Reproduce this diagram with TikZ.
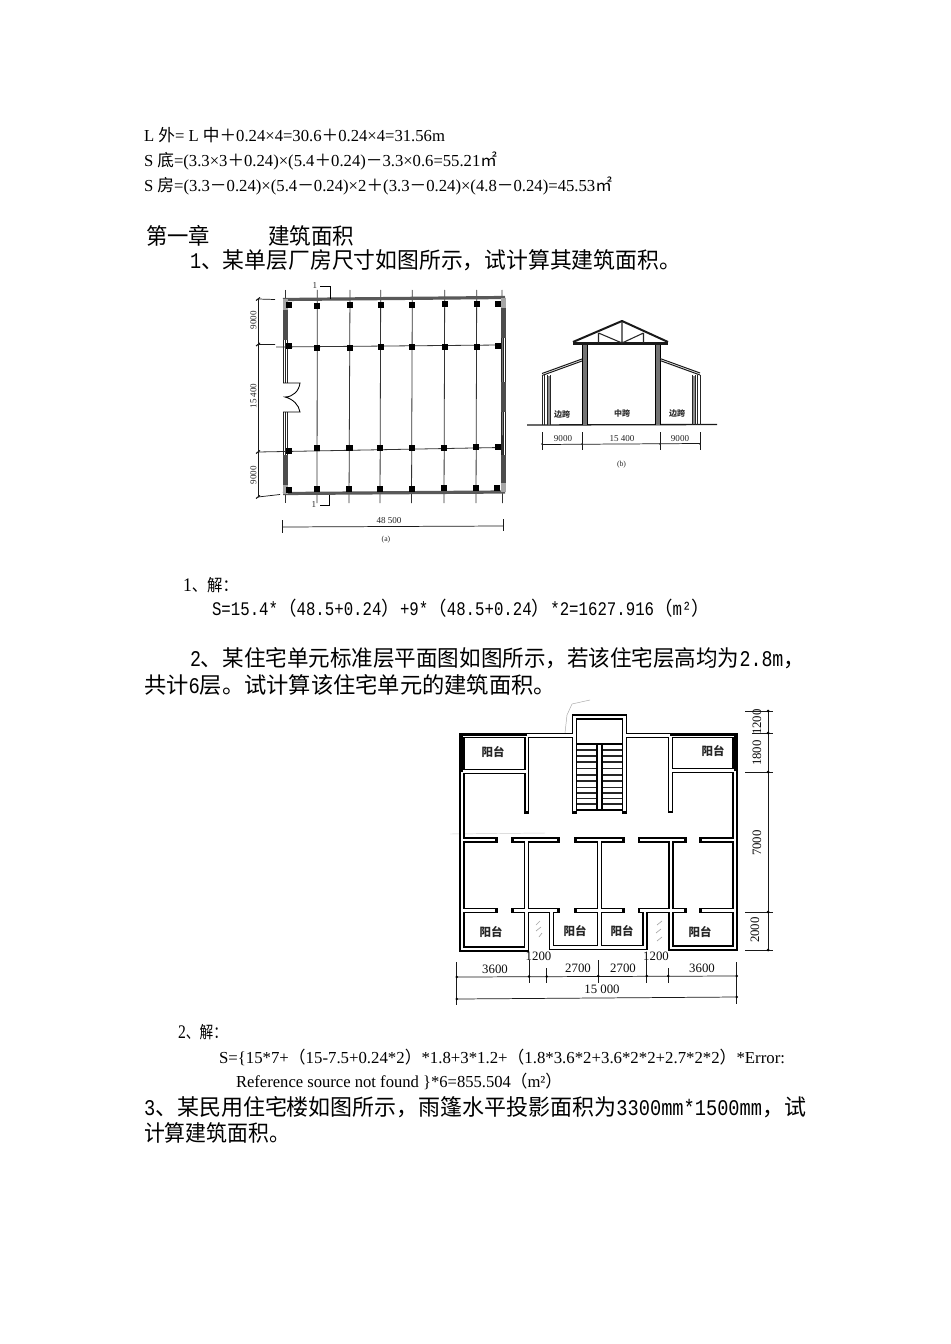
\documentclass[tikz,border=0pt]{standalone}
\usepackage{fontspec}
\usepackage{graphicx}
\setmainfont{Liberation Serif}
\newfontfamily\cjk{Noto Sans CJK SC}
\newfontfamily\hw[FakeStretch=0.85]{Liberation Mono}
\newcommand{\fitline}[5]{%
  \pgfmathsetlengthmacro\fitw{(#3-#2)*0.75}%
  \node[anchor=base west,inner sep=0pt,outer sep=0pt] (#1) at (#2,#4) {\resizebox{\fitw}{\height}{#5}};}
\newcommand{\fsA}{\fontsize{12.6}{15}\selectfont}
\newcommand{\fsB}{\fontsize{16.8}{20}\selectfont}
\newcommand{\fsC}{\fontsize{14.4}{17}\selectfont}
\tikzset{
  thinline/.style={line width=0.5pt,draw=black!85},
  gridline/.style={line width=0.6pt,draw=black!80},
  wallblack/.style={line width=4pt,draw=black,line cap=rect,line join=miter},
  wallwhite/.style={line width=1.8pt,draw=white,line cap=butt,line join=miter},
  dimline/.style={line width=0.55pt,draw=black!90},
  tinylabel/.style={inner sep=0pt,font=\fontsize{6.8}{8}\selectfont,text=black!85},
  captionlabel/.style={inner sep=0pt,font=\fontsize{5.8}{7}\selectfont,text=black!85},
  planlabel/.style={inner sep=0pt,font=\fontsize{9.6}{11}\selectfont,text=black!95},
  balconylabel/.style={inner sep=0pt,font=\cjk\bfseries\fontsize{8.6}{10}\selectfont,text=black!85},
  spanlabel/.style={inner sep=0pt,font=\cjk\bfseries\fontsize{6}{7}\selectfont,text=black!80},
  column/.style={fill=black,draw=none},
  noise/.style={line width=0.35pt,draw=black!35},
}
\begin{document}
\begin{tikzpicture}[x=0.75pt,y=-0.75pt]
\useasboundingbox (0,0) rectangle (950,1344);
\fill[white] (0,0) rectangle (950,1344);

% ---------- text ----------
\fitline{t1}{144}{445}{141.7}{\fsA L {\cjk 外}= L {\cjk 中＋}0.24×4=30.6{\cjk ＋}0.24×4=31.56m}
\fitline{t2}{144}{497}{166.7}{\fsA S {\cjk 底}=(3.3×3{\cjk ＋}0.24)×(5.4{\cjk ＋}0.24){\cjk －}3.3×0.6=55.21{\cjk ㎡}}
\fitline{t3}{144}{612}{191.7}{\fsA S {\cjk 房}=(3.3{\cjk －}0.24)×(5.4{\cjk －}0.24)×2{\cjk ＋}(3.3{\cjk －}0.24)×(4.8{\cjk －}0.24)=45.53{\cjk ㎡}}
\fitline{t4a}{146}{210}{245}{\fsB\cjk 第一章}
\fitline{t4b}{268}{354}{245}{\fsB\cjk 建筑面积}
\fitline{t5}{190}{681}{269}{\fsB{\hw 1}\cjk 、某单层厂房尺寸如图所示，试计算其建筑面积。}
\fitline{t6}{183}{238}{591.7}{\fsA{\fsC 1}\cjk 、解：}
\fitline{t7}{212}{710}{615}{\fsC\hw S=15.4*{\cjk （}48.5+0.24{\cjk ）}+9*{\cjk （}48.5+0.24{\cjk ）}*2=1627.916{\cjk （}m²{\cjk ）}}
\fitline{t8}{190}{805}{666.5}{\fsB{\hw 2}{\cjk 、某住宅单元标准层平面图如图所示，若该住宅层高均为}{\hw 2.8m}{\cjk ，}}
\fitline{t9}{144}{556}{693}{\fsB{\cjk 共计}{\hw 6}{\cjk 层。试计算该住宅单元的建筑面积。}}
\fitline{t10}{178}{227}{1038}{\fsA{\fsC 2}{\cjk 、解：}}
\fitline{t11}{219}{785}{1063}{\fsA S=\{15*7+{\cjk （}15-7.5+0.24*2{\cjk ）}*1.8+3*1.2+{\cjk （}1.8*3.6*2+3.6*2*2+2.7*2*2{\cjk ）}*Error:}
\fitline{t12}{236}{562}{1087.5}{\fsA Reference source not found \}*6=855.504{\cjk （}m²{\cjk ）}}
\fitline{t13}{144}{806}{1115}{\fsB{\hw 3}{\cjk 、某民用住宅楼如图所示，雨篷水平投影面积为}{\hw 3300mm*1500mm}{\cjk ，试}}
\fitline{t14}{144}{290}{1141}{\fsB\cjk 计算建筑面积。}

% ---------- figure (a): factory plan ----------
% grid
\foreach \xa/\xb in {285/285,317.3/317,350/349,380.7/380,412.3/411.5,444.7/444,476.7/476,502/502.5}
  \draw[gridline] (\xa,290) -- (\xb,503);
\draw[gridline] (276,347) -- (500,345);
\draw[gridline] (258,452) -- (500,447.5);
% walls
\draw[line width=2.4pt,draw=black!65] (283,299.5) -- (505,297.5);
\draw[line width=2.4pt,draw=black!65] (283,493.5) -- (505,492);
\fill[black!70] (283,310) rectangle (287.5,340);
\fill[black!70] (283,455) rectangle (287.5,485);
\fill[black!70] (501,308) rectangle (505.5,338);
\fill[black!70] (501,382) rectangle (505.5,412);
\fill[black!70] (501,455) rectangle (505.5,483);
\foreach \ya/\yb in {340/383,412/455}{
  \draw[thinline] (283,\ya) -- (283,\yb) (285,\ya) -- (285,\yb) (287,\ya) -- (287,\yb);
}
\foreach \ya/\yb in {338/382,412/455}{
  \draw[thinline] (501,\ya) -- (501,\yb) (503,\ya) -- (503,\yb) (505,\ya) -- (505,\yb);
}
\fill[black!35] (283,299) rectangle (287.5,310);
\fill[black!35] (283,485) rectangle (287.5,494);
\fill[black!35] (501,298) rectangle (505.5,308);
\fill[black!35] (501,483) rectangle (505.5,492);
% columns
\foreach \cx/\cy in {289.3/305.3,317.3/305.7,350/305,380.7/305,412.3/304.7,444.7/304.3,476.7/304.3,498.3/304,
                     289.3/346,317.3/348.3,350/347.7,380.7/347.3,412.3/347.3,444.7/347,476.7/346.7,498.3/346.3,
                     289.3/450.7,317/448.3,349.5/448.3,380/448,411.7/448,444/447.7,476/447.3,497.7/447,
                     289.3/489.7,316.7/489.3,349/489.3,380/489,411.7/489,444/488.3,476/488.3,497.3/487.7}
  \fill[column] (\cx-3.1,\cy-3.1) rectangle (\cx+3.1,\cy+3.1);
% door
\fill[white] (283,383) rectangle (287,412);
\draw[line width=0.65pt] (283,383) -- (300,383) .. controls (299,391) and (293,397) .. (285,397)
   .. controls (293,399) and (299,405) .. (300,412) -- (283,412);
% left dimension
\draw[dimline] (258,299) -- (258,497);
\draw[dimline] (258,299) -- (275,299.5) (258,344.5) -- (275,344.5) (258,497) -- (280,494.5);
\foreach \ty in {299,344.5,452,497}
  \draw[dimline,line width=0.8pt] (256,\ty+1.5) -- (260,\ty-1.5);
\node[tinylabel,rotate=90] (a9a) at (253.5,320) {9000};
\node[tinylabel,rotate=90] (a15) at (253.5,396) {15 400};
\node[tinylabel,rotate=90] (a9b) at (253.5,475) {9000};
% section marks
\node[tinylabel] (s1) at (315,286) {1};
\draw[line width=0.6pt] (320,286) -- (330,286) -- (330,299);
\node[tinylabel] (s2) at (314,505) {1};
\draw[line width=0.6pt] (320,505) -- (329,505) -- (329,495);
% bottom dimension
\draw[dimline] (282,527) -- (503,526);
\draw[dimline] (282,520) -- (282,533) (503,519) -- (503,531);
\node[tinylabel] (a48) at (389,520.5) {48 500};
\node[captionlabel] (acap) at (386,540) {(a)};

% ---------- figure (b): section ----------
\draw[line width=1pt,draw=black!90] (527,425) -- (717,424.5);
% centre columns
\fill[black!55] (582,344) rectangle (587,424.5);
\fill[black!55] (655,344) rectangle (660,424.5);
\draw[line width=0.5pt] (587,344) -- (587,424.5) (655,344) -- (655,424.5) (660,344) -- (660,424.5) (582,344)--(582,424.5);
% truss
\draw[line width=1.5pt,draw=black!90,line join=round] (573,342) -- (622,321) -- (668,342);
\draw[line width=1.8pt,draw=black!90] (573,343.5) -- (668,343.5);
\draw[line width=0.8pt,draw=black!85] (598.5,333) -- (598.5,343) (622,322) -- (622,343) (643.5,333) -- (643.5,343)
   (598.5,333) -- (622,343) -- (643.5,333);
% side roofs
\draw[line width=0.75pt,draw=black!90] (542,373.5) -- (582,359) (542,375.5) -- (582,361);
\draw[line width=0.75pt,draw=black!90] (660,358.5) -- (700,373) (660,360.5) -- (700,375);
% side columns
\fill[black!45] (547,376) rectangle (550,424);
\fill[black!45] (692,376) rectangle (695,424);
\foreach \px in {542,544,547,550,692,695,697,700}
  \draw[line width=0.7pt,draw=black!85] (\px,375) -- (\px,425);
\node[spanlabel] (bs1) at (562,414) {边跨};
\node[spanlabel] (bs2) at (622,413.5) {中跨};
\node[spanlabel] (bs3) at (677,413) {边跨};
% dimension
\draw[dimline] (542,444.5) -- (700,443.5);
\foreach \dx in {542,582,660,700}{
  \draw[dimline] (\dx,432) -- (\dx,450);
  \fill[black!85] (\dx,444) circle (0.9);
}
\node[tinylabel] (b90a) at (563,439) {9000};
\node[tinylabel] (b154) at (622,439) {15 400};
\node[tinylabel] (b90b) at (680,438.5) {9000};
\node[captionlabel] (bcap) at (621.5,464.5) {(b)};

% ---------- figure: residential plan ----------
\draw[noise] (565,733) -- (567,715) -- (572,704) -- (590,700);
\draw[noise,draw=black!20] (450,834) -- (545,833);
\def\planwalls{
  (526.5,840) -- (526.5,949) -- (462,949) -- (462,735.5) -- (574.5,735.5)
  (624.5,735.5) -- (735,735.5) -- (735,948) -- (671,948) -- (671,840)
  (574.5,811.4) -- (574.5,717) -- (624.5,717) -- (624.5,811.4)
  (526.7,735.5) -- (526.7,811.4)
  (670.5,735.5) -- (670.5,810.5)
  (462,771.5) -- (526.7,771.5)
  (670.5,770.5) -- (735,770.5)
  (462,840) -- (495.4,840) (513.6,840) -- (557.4,840) (576.6,840) -- (622.4,840) (640.3,840) -- (684,840) (702,840) -- (735,840)
  (462,910.5) -- (495.4,910.5) (513.6,910.5) -- (557.4,910.5) (576.6,910.5) -- (622.4,910.5) (640.3,910.5) -- (684,910.5) (702,910.5) -- (735,910.5)
  (599.3,840) -- (599.3,947.5)
  (551.5,910.5) -- (551.5,947.5) -- (645,947.5) -- (645,910.5)
}
\draw[wallblack] \planwalls;
\draw[wallwhite] \planwalls;
% thick balcony edges
\draw[line width=2.4pt,line join=miter] (461,772) -- (461,734.8) -- (527,734.8);
\draw[line width=2.4pt,line join=miter] (736,771) -- (736,734.8) -- (670,734.8);
% stairs
\draw[line width=1.5pt] (577,744.3) -- (622,744.3);
\foreach \ty in {750,756,762,768.5,775,781,787.5,793,798.5,804}
  \draw[line width=0.9pt,draw=black!85] (577,\ty) -- (597,\ty) (602,\ty) -- (622,\ty);
\draw[line width=1.3pt] (577,810) -- (622,810);
\draw[line width=0.9pt] (597,744.3) -- (597,810) (602,744.3) -- (602,810);
% bath hatch marks
\draw[noise,line width=0.5pt] (536,925) -- (540,921) (536,931) -- (541,927) (539,937) -- (542,933)
   (657,925) -- (662,921) (656,933) -- (661,929) (657,941) -- (662,937);
% balcony labels
\node[balconylabel] (p1) at (493,752) {阳台};
\node[balconylabel] (p2) at (713,751) {阳台};
\node[balconylabel] (p3) at (491,932) {阳台};
\node[balconylabel] (p4) at (575,931) {阳台};
\node[balconylabel] (p5) at (622,931) {阳台};
\node[balconylabel] (p6) at (700,932) {阳台};
% right dimension
\draw[dimline] (768,711) -- (768,950);
\draw[dimline] (745,711) -- (773,711) (752,733) -- (773,733) (745,772) -- (773,772)
   (745,912) -- (773,912) (745,950) -- (773,950);
\foreach \ty in {711,733,772,912,950}
  \fill[black] (768,\ty) circle (1.5);
\node[planlabel,rotate=90] (d12) at (757,722) {1200};
\node[planlabel,rotate=90] (d18) at (757,753) {1800};
\node[planlabel,rotate=90] (d70) at (757,843) {7000};
\node[planlabel,rotate=90] (d20) at (755,930) {2000};
% bottom dimensions
\draw[dimline] (456.7,977) -- (736.7,976);
\draw[dimline] (456.7,962) -- (456.7,1005) (736.7,962) -- (736.7,1004);
\foreach \dx/\ya in {529/960,546.7/968,598.3/960,646.7/960,668.3/968}
  \draw[dimline] (\dx,\ya) -- (\dx,983);
\foreach \dx/\dy in {456.7/977,529/976.5,546.7/976.5,598.3/976,646.7/976,668.3/976,736.7/976}
  \fill[black] (\dx,\dy) circle (1.4);
\draw[dimline] (456.7,999) -- (736.7,997);
\fill[black] (456.7,999) circle (1.4);
\fill[black] (736.7,997) circle (1.4);
\node[planlabel] (w1) at (495,969) {3600};
\node[planlabel] (w2) at (538.5,956) {1200};
\node[planlabel] (w3) at (578,968) {2700};
\node[planlabel] (w4) at (623,968) {2700};
\node[planlabel] (w5) at (656,956) {1200};
\node[planlabel] (w6) at (702,968) {3600};
\node[planlabel] (w7) at (602,989) {15 000};
\end{tikzpicture}
\end{document}
